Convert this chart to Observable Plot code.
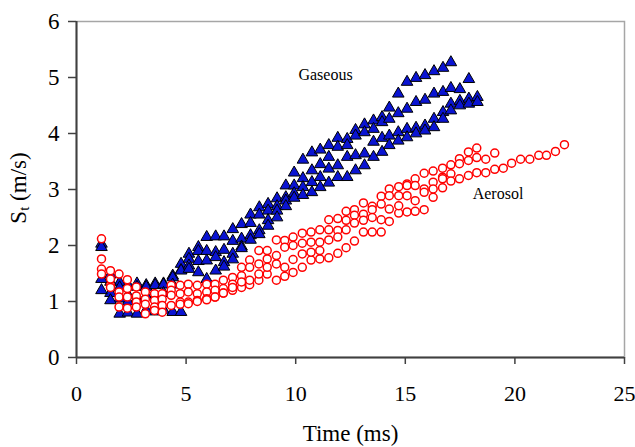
<!DOCTYPE html>
<html><head><meta charset="utf-8">
<script src="https://cdn.jsdelivr.net/npm/d3@7"></script>
<script src="https://cdn.jsdelivr.net/npm/@observablehq/plot@0.6"></script>
<style>body{margin:0;background:#fff}</style>
</head><body><div id="chart"></div>
<script>
const xTicks = [0, 5, 10, 15, 20, 25];
const yTicks = [0, 1, 2, 3, 4, 5, 6];

// Gaseous runs (triangles): shared time grid (ms), speed values (m/s)
const gasTime = [1.14,1.55,1.97,2.35,2.76,3.18,3.59,3.97,4.39,4.77,5.13,5.56,5.94,6.35,6.73,7.13,7.53,7.94,8.34,8.74,9.15,9.55,9.93,10.33,10.74,11.12,11.51,11.92,12.35,12.73,13.14,13.55,13.94,14.27,14.68,15.08,15.49,15.9,16.31,16.72,17.08,17.49,17.9,18.29];
const gasA = [2.03,1.48,1.34,1.30,1.32,1.29,1.32,1.32,1.46,1.67,1.85,1.97,2.15,2.16,2.16,2.29,2.38,2.55,2.68,2.74,2.84,3.07,3.30,3.53,3.66,3.71,3.79,3.92,3.90,4.06,4.16,4.23,4.29,4.46,4.71,4.92,4.99,5.04,5.11,5.17,5.27];
const gasB = [1.97,1.35,1.25,1.12,1.26,1.26,1.29,1.30,1.43,1.56,1.76,1.90,1.90,1.88,1.92,2.08,2.12,2.40,2.55,2.62,2.70,2.86,3.07,3.20,3.34,3.45,3.58,3.76,3.79,3.96,4.02,4.08,4.20,4.26,4.36,4.44,4.56,4.60,4.71,4.74,4.81,4.79,4.97];
const gasC = [1.40,1.15,1.05,1.00,1.05,1.10,1.10,1.15,1.30,1.55,1.64,1.72,1.73,1.79,1.70,1.85,1.98,2.18,2.27,2.45,2.62,2.80,2.93,3.04,3.13,3.22,3.37,3.43,3.58,3.61,3.64,3.85,3.92,3.96,4.02,4.08,4.10,4.14,4.26,4.38,4.53,4.58,4.62,4.65];
const gasD = [1.20,1.02,0.78,0.80,0.78,0.85,0.82,0.85,0.81,0.81,1.58,1.52,1.40,1.55,1.62,1.75,1.95,2.10,2.20,2.35,2.50,2.70,2.85,2.90,2.95,3.04,3.12,3.22,3.22,3.34,3.43,3.58,3.67,3.79,3.87,3.93,4.00,4.05,4.11,4.26,4.41,4.50,4.53,4.56];

// Aerosol runs (circles)
const aerTime = [1.14,1.55,1.94,2.32,2.73,3.14,3.56,3.91,4.32,4.73,5.10,5.51,5.94,6.32,6.70,7.12,7.53,7.90,8.32,8.70,9.12,9.50,9.88,10.30,10.70,11.10,11.51,11.92,12.30,12.68,13.09,13.49,13.90,14.27,14.70,15.08,15.45,15.86,16.27,16.70,17.08,17.47,17.88,18.26,18.67,19.08,19.47,19.85,20.26,20.68,21.09,21.44,21.85,22.26];
const aerA = [2.12,1.55,1.49,1.39,1.26,1.17,1.14,1.14,1.29,1.29,1.31,1.29,1.31,1.31,1.38,1.43,1.61,1.74,1.91,1.91,2.10,2.09,2.15,2.22,2.24,2.28,2.46,2.48,2.61,2.64,2.76,2.70,2.88,3.01,3.05,3.10,3.19,3.29,3.33,3.38,3.44,3.55,3.67,3.74];
const aerB = [1.76,1.29,1.17,1.23,1.10,1.04,1.02,1.04,1.20,1.14,1.17,1.14,1.17,1.20,1.23,1.31,1.46,1.61,1.67,1.76,1.82,1.97,2.00,2.04,2.06,2.06,2.28,2.27,2.45,2.54,2.56,2.64,2.74,2.89,2.89,3.07,3.07,3.01,3.13,3.22,3.28,3.46,3.52,3.57,3.54,3.65];
const aerC = [1.58,1.25,1.08,1.08,0.99,0.95,0.90,0.93,1.11,0.99,0.99,1.02,1.05,1.08,1.15,1.20,1.25,1.30,1.38,1.49,1.38,1.45,1.52,1.61,1.74,1.76,1.78,1.86,1.96,2.08,2.24,2.24,2.24,2.43,2.58,2.60,2.61,2.64,2.86,3.03,3.15,3.19,3.25,3.30,3.30,3.36,3.38,3.47,3.54,3.54,3.61,3.61,3.68,3.80];
const aerD = [1.49,1.40,0.90,0.88,0.90,0.78,0.84,0.81,0.93,0.95,0.96,1.00,1.03,1.08,1.15,1.25,1.35,1.38,1.49,1.61,1.67,1.61,1.75,1.85,1.88,1.91,2.10,2.15,2.28,2.40,2.45,2.50,2.46,2.65,2.71,2.89,2.80,2.95,3.01,3.19];

const seriesLabels = [{name: "Gaseous", t: 11.36, s: 5.04}, {name: "Aerosol", t: 19.23, s: 2.93}];
const xTitle = "Time (ms)";

const gas = [gasA, gasB, gasC, gasD].flatMap((run, k) => run.map((s, i) => ({t: gasTime[i], s, run: k})));
const aer = [aerA, aerB, aerC, aerD].flatMap((run, k) => run.map((s, i) => ({t: aerTime[i], s, run: k})));

const font = "Liberation Serif, Times New Roman, serif";
const chart = Plot.plot({
  width: 635, height: 447,
  marginLeft: 76, marginRight: 11, marginTop: 21, marginBottom: 90,
  style: {fontFamily: font, background: "#fff", color: "#000"},
  x: {domain: [0, 25]},
  y: {domain: [0, 6]},
  marks: [
    Plot.frame({stroke: "#a6a6a6", strokeWidth: 1.5}),
    Plot.axisX({ticks: xTicks, tickFormat: d3.format("d"), tickSize: 7, tickPadding: 21, fontSize: 22, fontFamily: font, label: null, stroke: "#404040", strokeWidth: 1.5}),
    Plot.axisY({ticks: yTicks, tickFormat: d3.format("d"), tickSize: 8, tickPadding: 9, fontSize: 23, fontFamily: font, label: null, stroke: "#404040", strokeWidth: 1.5}),
    Plot.ruleY([0], {stroke: "#404040", strokeWidth: 2}),
    Plot.ruleX([0], {stroke: "#404040", strokeWidth: 2}),
    Plot.dot(gas, {x: "t", y: "s", symbol: "triangle", r: 4.3, fill: "#0a14d2", stroke: "#000", strokeWidth: 1}),
    Plot.dot(aer, {x: "t", y: "s", symbol: "circle", r: 4, fill: "#fff", stroke: "#ff0000", strokeWidth: 1.5}),
    Plot.text(seriesLabels, {x: "t", y: "s", text: "name", fontSize: 16, fontFamily: font, fill: "#000"}),
    Plot.text([xTitle], {frameAnchor: "bottom", dy: 83, text: d => d, fontSize: 23, fontFamily: font, fill: "#000"})
  ]
});
const svg = d3.select(chart).attr("font-family", font);
const yl = svg.append("text")
  .attr("transform", "translate(21,188) rotate(-90)")
  .attr("text-anchor", "middle")
  .attr("dominant-baseline", "middle")
  .attr("font-size", 23)
  .attr("font-family", font)
  .attr("fill", "#000");
yl.append("tspan").text("S");
yl.append("tspan").attr("font-size", 15).attr("dy", 5).text("t");
yl.append("tspan").attr("dy", -5).text(" (m/s)");
document.getElementById("chart").appendChild(chart);
</script>
</body></html>
